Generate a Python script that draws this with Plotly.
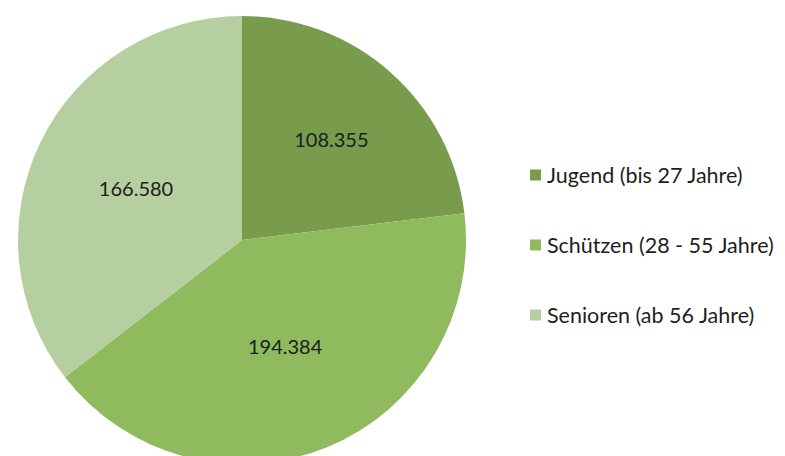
import plotly.graph_objects as go

categories = ["Jugend (bis 27 Jahre)", "Schützen (28 - 55 Jahre)", "Senioren (ab 56 Jahre)"]
values = [108355, 194384, 166580]
colors = ["#789b4c", "#8fbb5e", "#b6cfa0"]

W, H = 785, 456

fig = go.Figure()
fig.add_trace(go.Pie(
    labels=categories,
    values=values,
    sort=False,
    direction="clockwise",
    rotation=0,
    marker=dict(colors=colors, line=dict(width=0)),
    texttemplate="%{value:,.0f}",
    textposition="inside",
    insidetextorientation="horizontal",
    textfont=dict(family="Lato", size=20, color="#1a201c"),
    domain=dict(x=[10 / W, 458 / W], y=[0, 448 / H]),
    showlegend=False,
    hoverinfo="label+value+percent",
))

# legend drawn as shapes + text, built from the category list
leg_y = [167, 237, 307]
for cat, col, py in zip(categories, colors, leg_y):
    fig.add_shape(type="rect", xref="paper", yref="paper",
                  x0=522 / W, x1=533 / W, y0=1 - (py + 5.5) / H, y1=1 - (py - 5.5) / H,
                  fillcolor=col, line=dict(width=0))
    fig.add_annotation(xref="paper", yref="paper", x=537 / W, y=1 - py / H,
                       xanchor="left", yanchor="middle", showarrow=False,
                       text=cat, font=dict(family="Lato", size=21.5, color="#1e1e1e"))

fig.update_layout(
    width=W, height=H,
    margin=dict(l=0, r=0, t=0, b=0),
    paper_bgcolor="white",
    plot_bgcolor="white",
    separators=",.",
)
fig.write_html("out.html")
